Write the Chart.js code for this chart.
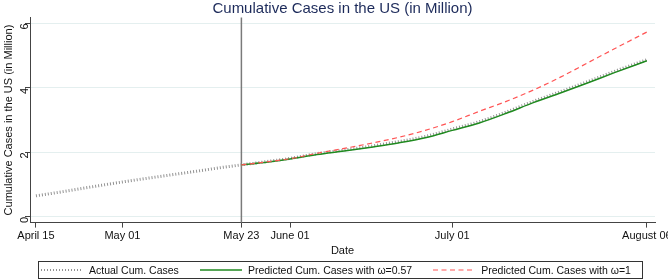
<!DOCTYPE html>
<html>
<head>
<meta charset="utf-8">
<script src="https://cdn.jsdelivr.net/npm/chart.js@4/dist/chart.umd.min.js"></script>
<style>
  body { margin: 0; background: #fff; }
  #wrap { position: relative; width: 668px; height: 280px; }
  #legend {
    position: absolute; left: 38px; top: 261px; width: 605px; height: 18px;
    border: 1px solid #333; box-sizing: border-box;
    display: flex; align-items: center; padding-left: 2px;
    font: 10.5px 'Liberation Sans', Arial, sans-serif; color: #111;
  }
  .item { display: flex; align-items: center; margin-right: 21px; white-space: nowrap; }
  .item svg { margin-right: 6px; }
</style>
</head>
<body>
<div id="wrap">
  <canvas id="casesChart" width="668" height="280"></canvas>
  <div id="legend"></div>
</div>
<script>
// Days counted from April 15 (day 0)
const actualDays = [0, 5, 10, 16, 20, 25, 30, 34, 38, 43, 47, 52, 57, 62, 67, 72, 77, 82, 87, 92, 97, 102, 107, 113];
const actualCases = [0.65, 0.78, 0.92, 1.08, 1.18, 1.30, 1.42, 1.52, 1.61, 1.72, 1.81, 1.96, 2.07, 2.19, 2.33, 2.49, 2.72, 2.95, 3.25, 3.58, 3.88, 4.19, 4.51, 4.87];

// Predictions start on May 23 (day 38)
const predDays = [38, 43, 47, 52, 57, 62, 67, 72, 77, 82, 87, 92, 97, 102, 107, 113];
const predOmega057 = [1.61, 1.70, 1.79, 1.93, 2.04, 2.16, 2.29, 2.45, 2.68, 2.91, 3.21, 3.54, 3.84, 4.15, 4.47, 4.84];
const predOmega1 = [1.61, 1.71, 1.80, 1.97, 2.12, 2.28, 2.46, 2.68, 2.95, 3.27, 3.58, 3.93, 4.33, 4.77, 5.21, 5.73];

const seriesLabels = ['Actual Cum. Cases', 'Predicted Cum. Cases with \u03c9=0.57', 'Predicted Cum. Cases with \u03c9=1'];
const tickDays = [0, 16, 38, 47, 77, 113];
const tickLabels = ['April 15', 'May 01', 'May 23', 'June 01', 'July 01', 'August 06'];
const yTicks = [0, 2, 4, 6];
const cutoffDay = 38;

const toPoints = (xs, ys) => xs.map((x, i) => ({ x: x, y: ys[i] }));

// Vertical line where the prediction starts
const cutoffLine = {
    id: 'cutoffLine',
    beforeDatasetsDraw(chart) {
        const ctx = chart.ctx;
        const area = chart.chartArea;
        const x = chart.scales.x.getPixelForValue(cutoffDay);
        ctx.save();
        ctx.strokeStyle = '#7a7a7a';
        ctx.lineWidth = 1.5;
        ctx.beginPath();
        ctx.moveTo(x, area.top);
        ctx.lineTo(x, area.bottom);
        ctx.stroke();
        ctx.restore();
    }
};

const fontFamily = "'Liberation Sans', Arial, sans-serif";

const chart = new Chart(document.getElementById('casesChart'), {
    type: 'line',
    data: {
        datasets: [{
            label: seriesLabels[0],
            data: toPoints(actualDays, actualCases),
            borderColor: '#929292',
            borderWidth: 3,
            borderDash: [1, 2],
            pointRadius: 0,
            cubicInterpolationMode: 'monotone',
            order: 3
        }, {
            label: seriesLabels[1],
            data: toPoints(predDays, predOmega057),
            borderColor: '#1f8a1f',
            borderWidth: 1.5,
            pointRadius: 0,
            cubicInterpolationMode: 'monotone',
            order: 2
        }, {
            label: seriesLabels[2],
            data: toPoints(predDays, predOmega1),
            borderColor: '#ff5555',
            borderWidth: 1.2,
            borderDash: [5, 3.5],
            pointRadius: 0,
            cubicInterpolationMode: 'monotone',
            order: 1
        }]
    },
    options: {
        responsive: false,
        animation: false,
        devicePixelRatio: 1,
        layout: { padding: { top: 0, right: 13, bottom: 22, left: 2 } },
        plugins: {
            title: {
                display: true,
                text: 'Cumulative Cases in the US (in Million)',
                color: '#1c2a5a',
                fullSize: false,
                font: { family: fontFamily, size: 15, weight: 'normal', lineHeight: 1.1 },
                padding: { top: 1, bottom: 0 }
            },
            legend: { display: false },
            tooltip: { enabled: false }
        },
        scales: {
            x: {
                type: 'linear',
                min: -1.1,
                max: 114.5,
                afterBuildTicks: (axis) => { axis.ticks = tickDays.map(v => ({ value: v })); },
                afterFit: (axis) => { axis.paddingRight = 0; axis.paddingLeft = 0; },
                ticks: {
                    callback: (value) => tickLabels[tickDays.indexOf(value)],
                    maxRotation: 0,
                    autoSkip: false,
                    padding: 2,
                    color: '#111',
                    font: { family: fontFamily, size: 11 }
                },
                grid: { drawOnChartArea: false, tickLength: 5, tickColor: '#444' },
                border: { color: '#444' },
                title: {
                    display: true,
                    text: 'Date',
                    color: '#111',
                    padding: { top: 0, bottom: 0 },
                    font: { family: fontFamily, size: 11 }
                }
            },
            y: {
                min: -0.18,
                max: 6.18,
                afterBuildTicks: (axis) => { axis.ticks = yTicks.map(v => ({ value: v })); },
                afterFit: (axis) => { axis.width = 28; },
                ticks: {
                    minRotation: 90,
                    maxRotation: 90,
                    padding: 0.5,
                    color: '#111',
                    font: { family: fontFamily, size: 11 }
                },
                grid: { color: '#e4efef', tickLength: 5, tickColor: '#444' },
                border: { color: '#444' },
                title: {
                    display: true,
                    text: 'Cumulative Cases in the US (in Million)',
                    color: '#111',
                    padding: { top: 0, bottom: 1 },
                    font: { family: fontFamily, size: 11 }
                }
            }
        }
    },
    plugins: [cutoffLine]
});

// HTML legend built from the datasets, with line samples matching each style
const legendEl = document.getElementById('legend');
chart.data.datasets.forEach((ds) => {
    const dash = ds.borderDash ? ds.borderDash.join(' ') : 'none';
    const item = document.createElement('div');
    item.className = 'item';
    item.innerHTML = '<svg width="42" height="6"><line x1="0" y1="3" x2="42" y2="3" stroke="' + ds.borderColor +
        '" stroke-width="' + Math.min(ds.borderWidth, 2) + '" stroke-dasharray="' + dash + '"/></svg>';
    const span = document.createElement('span');
    span.textContent = ds.label;
    item.appendChild(span);
    legendEl.appendChild(item);
});
</script>
</body>
</html>
